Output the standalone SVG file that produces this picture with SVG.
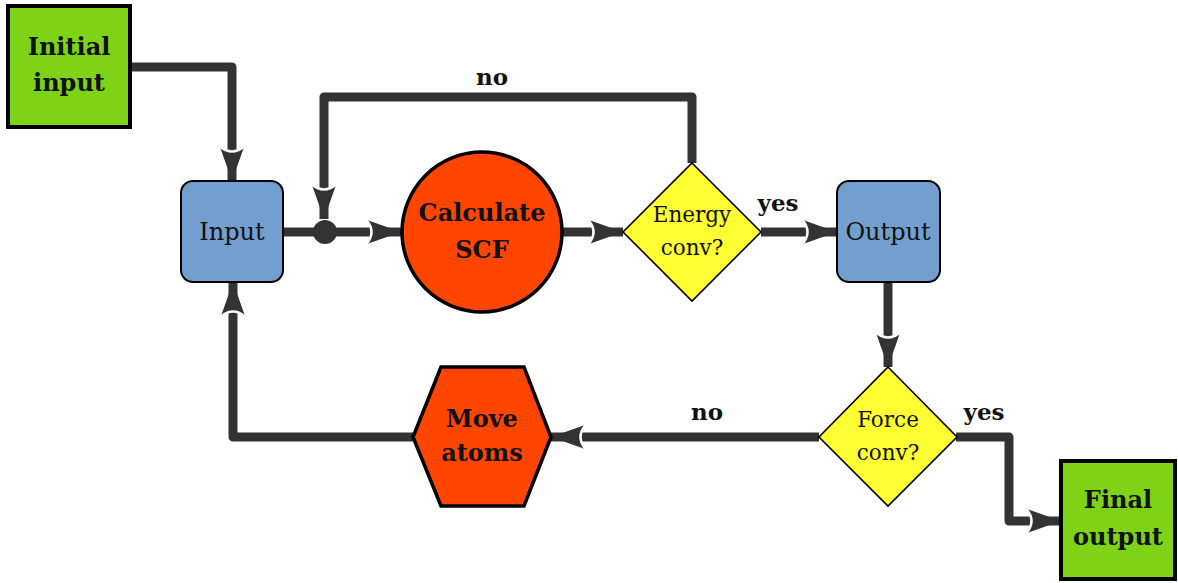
<svg xmlns="http://www.w3.org/2000/svg" width="1178" height="583" viewBox="0 0 1178 583">
<style>
.conn{fill:none;stroke:#333333;stroke-width:9;stroke-linejoin:round;stroke-linecap:butt}
.green{fill:#7ED317;stroke:#000;stroke-width:4}
.blue{fill:#729FCF;stroke:#000;stroke-width:2}
.orange{fill:#FF4500;stroke:#000;stroke-width:3.5}
.yellow{fill:#FFFF33;stroke:#000;stroke-width:1.6}
.b{font-family:"DejaVu Serif","Liberation Serif",serif;font-weight:bold;font-size:24px;text-anchor:middle;fill:#111}
.r{font-family:"DejaVu Serif","Liberation Serif",serif;font-size:24px;text-anchor:middle;fill:#111}
.s{font-family:"DejaVu Serif","Liberation Serif",serif;font-size:21.5px;text-anchor:middle;fill:#111}
.lbl{font-family:"DejaVu Serif","Liberation Serif",serif;font-weight:bold;font-size:23px;text-anchor:middle;fill:#111}
</style>
<defs>
<marker id="arr" markerUnits="userSpaceOnUse" viewBox="-36 -14 38 28" refX="0" refY="0" markerWidth="38" markerHeight="28" orient="auto">
<path d="M0,0 L-34,-12 Q-24,0 -34,12 Z" fill="#333333"/>
<path d="M-34.5,-12 Q-24.5,0 -34.5,12" fill="none" stroke="#ffffff" stroke-width="2.5"/>
</marker>
</defs>
<g id="connectors">
<path class="conn" d="M130,67 H232 V181" marker-end="url(#arr)"/>
<path class="conn" d="M283,232 H325"/>
<path class="conn" d="M325,232 H401" marker-end="url(#arr)"/>
<path class="conn" d="M563,232 H623" marker-end="url(#arr)"/>
<path class="conn" d="M692,163 V97 H324 V219" marker-end="url(#arr)"/>
<path class="conn" d="M761,232 H837" marker-end="url(#arr)"/>
<path class="conn" d="M888,282 V367" marker-end="url(#arr)"/>
<path class="conn" d="M819,437 H551" marker-end="url(#arr)"/>
<path class="conn" d="M413,437 H233 V282" marker-end="url(#arr)"/>
<path class="conn" d="M956,437 H1009 V521 H1061" marker-end="url(#arr)"/>
<circle cx="325" cy="232" r="12" fill="#333333"/>
<text class="lbl" x="492" y="85">no</text>
<text class="lbl" x="778" y="211">yes</text>
<text class="lbl" x="707" y="420">no</text>
<text class="lbl" x="984" y="420">yes</text>
</g>
<g id="initial-input">
<rect class="green" x="8" y="6" width="122" height="121"/>
<text class="b" x="69" y="55">Initial</text>
<text class="b" x="69" y="91">input</text>
</g>
<g id="input">
<rect class="blue" x="181" y="181" width="102" height="101" rx="12"/>
<text class="r" x="232" y="240">Input</text>
</g>
<g id="calculate-scf">
<circle class="orange" cx="482" cy="232" r="80"/>
<text class="b" x="482" y="221">Calculate</text>
<text class="b" x="482" y="258">SCF</text>
</g>
<g id="energy-conv">
<polygon class="yellow" points="692,163 761,232 692,301 623,232"/>
<text class="s" x="692" y="222">Energy</text>
<text class="s" x="692" y="255">conv?</text>
</g>
<g id="output">
<rect class="blue" x="837" y="181" width="103" height="101" rx="12"/>
<text class="r" x="888" y="240">Output</text>
</g>
<g id="force-conv">
<polygon class="yellow" points="888,367 957,437 888,506 819,437"/>
<text class="s" x="888" y="427">Force</text>
<text class="s" x="888" y="460">conv?</text>
</g>
<g id="move-atoms">
<polygon class="orange" points="441,367 524,367 551,437 524,506 441,506 413,437"/>
<text class="b" x="482" y="427">Move</text>
<text class="b" x="482" y="461">atoms</text>
</g>
<g id="final-output">
<rect class="green" x="1061" y="461" width="114" height="118"/>
<text class="b" x="1118" y="508">Final</text>
<text class="b" x="1118" y="545">output</text>
</g>
</svg>
